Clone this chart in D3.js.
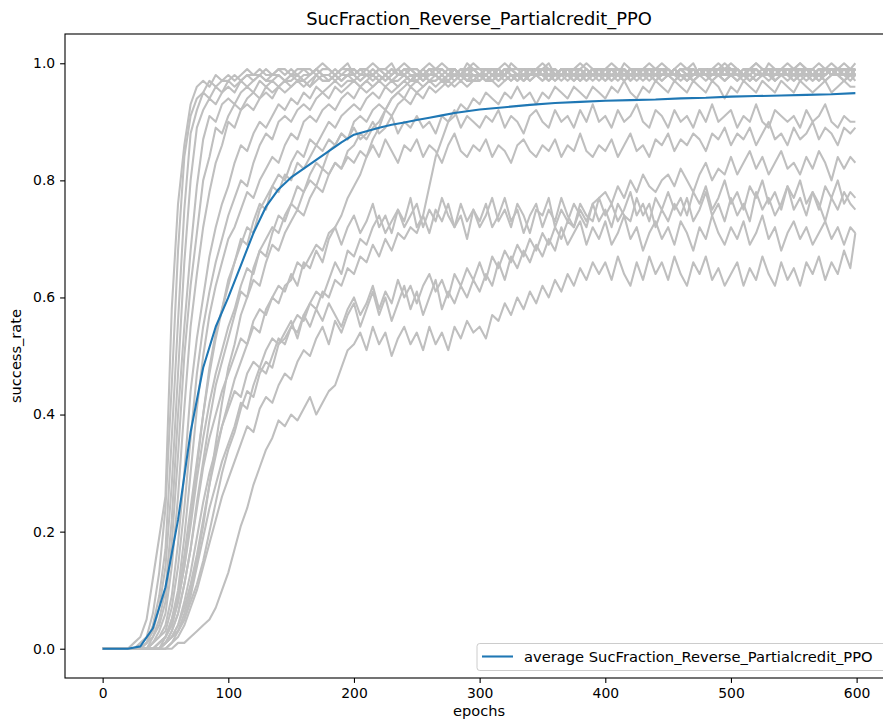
<!DOCTYPE html>
<html>
<head>
<meta charset="utf-8">
<script src="https://cdn.jsdelivr.net/npm/d3@7/dist/d3.min.js"></script>
<style>
  body { margin: 0; background: #fff; }
  text { font-family: "DejaVu Sans", sans-serif; }
</style>
</head>
<body>
<script>
// epochs at which each run was sampled
const epochs = [
  0,5,10,15,20,25,30,35,40,45,
  50,55,60,65,70,75,80,85,90,95,
  100,105,110,115,120,125,130,135,140,145,
  150,155,160,165,170,175,180,185,190,195,
  200,205,210,215,220,225,230,235,240,245,
  250,255,260,265,270,275,280,285,290,295,
  300,305,310,315,320,325,330,335,340,345,
  350,355,360,365,370,375,380,385,390,395,
  400,405,410,415,420,425,430,435,440,445,
  450,455,460,465,470,475,480,485,490,495,
  500,505,510,515,520,525,530,535,540,545,
  550,555,560,565,570,575,580,585,590,595,
  599
];

// average curve
const avgEpochs = [0,10,20,30,40,50,60,70,80,90,100,110,120,130,140,150,160,170,180,190,
  200,210,220,230,240,250,260,270,280,290,300,320,340,360,380,400,420,440,460,480,
  500,520,540,560,580,599];
const avgValues = [0,0,0,0.004,0.035,0.105,0.22,0.37,0.48,0.55,0.60,0.655,0.71,0.755,0.785,
  0.805,0.82,0.835,0.85,0.865,0.878,0.884,0.89,0.895,0.899,0.903,0.907,0.911,0.915,0.918,
  0.921,0.925,0.929,0.932,0.934,0.936,0.937,0.938,0.940,0.941,0.943,0.944,0.945,0.946,0.947,0.949];

// individual runs (gray)
const run01 = [
  0,0,0,0,0,0.01,0.02,0.05,0.12,0.19,
  0.26,0.58,0.76,0.86,0.93,0.96,0.97,0.96,0.98,0.97,
  0.98,0.97,0.98,0.99,0.98,0.98,0.99,0.98,0.99,0.99,
  0.98,0.99,0.99,0.98,0.99,1.0,0.99,0.98,0.99,0.99,
  0.99,0.98,0.99,1.0,0.99,0.99,0.98,0.99,1.0,0.99,
  0.99,0.98,0.99,0.99,1.0,0.99,0.98,0.99,0.99,1.0,
  0.99,0.99,0.98,0.99,1.0,0.99,0.99,0.98,0.99,0.99,
  1.0,0.99,0.99,0.98,0.99,0.99,1.0,0.99,0.98,0.99,
  0.99,1.0,0.99,0.99,0.98,0.99,0.99,1.0,0.99,0.99,
  0.98,0.99,1.0,0.99,0.99,0.98,0.99,0.99,1.0,0.99,
  0.99,0.98,0.99,0.99,1.0,0.99,0.99,0.98,0.99,1.0,
  0.99,0.99,0.98,0.99,1.0,0.99,0.99,0.98,0.99,0.99,
  0.99
];
const run02 = [
  0,0,0,0,0,0,0.01,0.02,0.06,0.13,
  0.24,0.45,0.68,0.84,0.91,0.94,0.95,0.97,0.96,0.97,
  0.97,0.98,0.97,0.98,0.98,0.99,0.98,0.98,0.99,0.98,
  0.99,0.98,0.99,0.99,0.98,0.99,0.99,0.98,0.99,1.0,
  0.98,0.99,0.99,0.98,0.99,0.99,1.0,0.98,0.99,0.99,
  0.98,0.99,1.0,0.99,0.98,0.99,0.99,0.98,1.0,0.99,
  0.99,0.98,0.99,0.99,0.98,1.0,0.99,0.99,0.98,0.99,
  0.99,1.0,0.98,0.99,0.99,0.98,0.99,1.0,0.99,0.98,
  0.99,0.99,0.98,1.0,0.99,0.99,0.98,0.99,0.99,1.0,
  0.99,0.98,0.99,0.99,1.0,0.98,0.99,0.99,0.98,0.99,
  1.0,0.99,0.98,0.99,0.99,0.98,1.0,0.99,0.99,0.98,
  0.99,1.0,0.99,0.98,0.99,0.99,0.98,0.99,1.0,0.99,
  0.98
];
const run03 = [
  0,0,0,0,0,0,0,0.01,0.04,0.09,
  0.17,0.36,0.56,0.75,0.88,0.92,0.95,0.94,0.96,0.95,
  0.97,0.96,0.97,0.98,0.97,0.98,0.97,0.98,0.98,0.97,
  0.98,0.98,0.97,0.98,0.99,0.98,0.98,0.99,0.98,0.98,
  0.99,0.98,0.98,0.99,0.98,0.97,0.98,0.99,0.98,0.99,
  0.98,0.98,0.99,0.98,0.97,0.98,0.99,0.98,0.98,0.99,
  0.98,0.99,0.98,0.98,0.99,0.98,0.97,0.98,0.99,0.98,
  0.98,0.99,0.98,0.99,0.98,0.98,0.99,0.98,0.97,0.98,
  0.99,0.98,0.98,0.99,0.98,0.99,0.98,0.98,0.99,0.98,
  0.98,0.99,0.98,0.97,0.98,0.99,0.98,0.99,0.98,0.98,
  0.99,0.98,0.98,0.99,0.98,0.98,0.99,0.98,0.99,0.98,
  0.98,0.99,0.98,0.98,0.99,0.98,0.99,0.98,0.98,0.99,
  0.98
];
const run04 = [
  0,0,0,0,0,0,0,0.01,0.03,0.07,
  0.14,0.28,0.47,0.66,0.80,0.89,0.92,0.94,0.93,0.95,
  0.96,0.95,0.97,0.96,0.97,0.98,0.97,0.97,0.98,0.97,
  0.98,0.97,0.98,0.98,0.99,0.98,0.98,0.97,0.98,0.99,
  0.98,0.99,0.98,0.98,0.99,0.98,0.99,0.98,0.98,0.99,
  0.99,0.98,0.98,0.99,0.99,0.98,0.99,0.98,0.99,0.99,
  0.98,0.99,0.99,0.98,0.99,0.99,0.98,0.99,0.99,0.98,
  0.99,0.99,0.98,0.99,0.98,0.99,0.99,0.98,0.99,0.99,
  0.98,0.99,0.99,0.98,0.99,0.99,0.98,0.99,0.98,0.99,
  0.99,0.98,0.99,0.99,0.98,0.99,0.99,0.98,0.99,0.99,
  0.98,0.99,0.98,0.99,0.99,0.98,0.99,0.99,0.98,0.99,
  0.99,0.98,0.99,0.99,0.98,0.99,0.98,0.99,0.99,0.98,
  0.99
];
const run05 = [
  0,0,0,0,0,0,0,0.01,0.02,0.05,
  0.10,0.22,0.40,0.55,0.68,0.79,0.87,0.91,0.90,0.93,
  0.94,0.93,0.95,0.96,0.95,0.97,0.96,0.97,0.96,0.97,
  0.97,0.98,0.97,0.96,0.97,0.98,0.97,0.98,0.97,0.98,
  0.97,0.98,0.98,0.97,0.98,0.97,0.98,0.99,0.98,0.97,
  0.98,0.97,0.98,0.98,0.97,0.98,0.99,0.98,0.97,0.98,
  0.98,0.97,0.98,0.99,0.98,0.97,0.98,0.98,0.97,0.98,
  0.99,0.98,0.97,0.98,0.98,0.97,0.98,0.99,0.98,0.98,
  0.97,0.98,0.98,0.99,0.97,0.98,0.98,0.97,0.98,0.99,
  0.98,0.97,0.98,0.98,0.99,0.98,0.97,0.98,0.98,0.97,
  0.98,0.99,0.98,0.97,0.98,0.98,0.99,0.97,0.98,0.98,
  0.97,0.98,0.99,0.98,0.98,0.97,0.98,0.99,0.98,0.97,
  0.98
];
const run06 = [
  0,0,0,0,0,0,0,0,0.02,0.04,
  0.08,0.18,0.33,0.50,0.62,0.71,0.80,0.84,0.89,0.88,
  0.91,0.93,0.92,0.94,0.95,0.94,0.96,0.95,0.96,0.97,
  0.96,0.97,0.97,0.96,0.98,0.97,0.97,0.98,0.97,0.98,
  0.98,0.97,0.98,0.98,0.99,0.98,0.97,0.98,0.99,0.98,
  0.98,0.99,0.98,0.98,0.97,0.98,0.99,0.98,0.98,0.99,
  0.98,0.98,0.99,0.98,0.99,0.98,0.98,0.99,0.98,0.99,
  0.99,0.98,0.98,0.99,0.98,0.99,0.99,0.98,0.99,0.98,
  0.98,0.99,0.99,0.98,0.99,0.98,0.99,0.99,0.98,0.99,
  0.99,0.98,0.99,0.99,0.98,0.99,0.98,0.99,0.99,1.0,
  0.99,0.99,0.98,0.99,1.0,0.99,0.98,0.99,0.99,0.98,
  0.99,1.0,0.99,0.98,0.99,0.99,1.0,0.99,0.98,0.99,
  1.0
];
const run07 = [
  0,0,0,0,0,0,0,0,0.01,0.03,
  0.06,0.14,0.26,0.41,0.55,0.64,0.72,0.78,0.83,0.86,
  0.90,0.89,0.92,0.93,0.92,0.94,0.95,0.94,0.96,0.95,
  0.96,0.97,0.96,0.97,0.98,0.97,0.97,0.98,0.97,0.98,
  0.98,0.97,0.98,0.98,0.97,0.98,0.99,0.98,0.98,0.97,
  0.98,0.98,0.99,0.98,0.97,0.98,0.98,0.99,0.98,0.98,
  0.97,0.98,0.99,0.98,0.98,0.99,0.98,0.97,0.98,0.99,
  0.98,0.98,0.99,0.98,0.97,0.98,0.99,0.98,0.98,0.99,
  0.98,0.97,0.98,0.99,0.98,0.98,0.99,0.98,0.97,0.98,
  0.99,0.98,0.98,0.97,0.98,0.99,0.98,0.98,0.99,0.98,
  0.98,0.99,0.98,0.97,0.98,0.98,0.99,0.98,0.98,0.99,
  0.98,0.98,0.99,0.98,0.97,0.98,0.99,0.98,0.99,0.98,
  0.99
];
const run08 = [
  0,0,0,0,0,0,0,0,0.01,0.02,
  0.04,0.09,0.18,0.30,0.44,0.53,0.60,0.67,0.72,0.76,
  0.79,0.83,0.86,0.85,0.88,0.90,0.89,0.91,0.93,0.92,
  0.94,0.93,0.95,0.94,0.96,0.95,0.96,0.97,0.96,0.97,
  0.97,0.96,0.97,0.98,0.97,0.98,0.97,0.98,0.98,0.97,
  0.98,0.97,0.98,0.98,0.99,0.98,0.97,0.98,0.99,0.98,
  0.98,0.99,0.98,0.97,0.98,0.99,0.98,0.98,0.99,0.98,
  0.99,0.98,0.98,0.99,0.98,0.97,0.98,0.99,0.98,0.99,
  0.98,0.98,0.99,0.98,0.99,0.98,0.98,0.99,0.98,0.98,
  0.99,0.98,0.99,0.98,0.98,0.99,0.98,0.99,0.99,0.98,
  0.98,0.99,0.98,0.99,0.98,0.98,0.99,0.98,0.99,0.99,
  0.98,0.99,0.99,0.98,0.99,0.98,0.99,0.99,0.98,0.99,
  0.99
];
const run09 = [
  0,0,0,0,0,0,0,0,0.01,0.02,
  0.03,0.07,0.14,0.24,0.36,0.47,0.55,0.61,0.66,0.70,
  0.74,0.77,0.80,0.79,0.83,0.86,0.88,0.87,0.90,0.91,
  0.90,0.92,0.93,0.92,0.94,0.95,0.94,0.96,0.95,0.96,
  0.97,0.96,0.97,0.96,0.97,0.98,0.97,0.97,0.98,0.97,
  0.98,0.97,0.98,0.98,0.97,0.98,0.99,0.98,0.97,0.98,
  0.98,0.98,0.97,0.98,0.99,0.98,0.98,0.97,0.98,0.99,
  0.98,0.97,0.98,0.98,0.99,0.98,0.97,0.98,0.99,0.98,
  0.98,0.99,0.98,0.97,0.98,0.98,0.99,0.98,0.98,0.97,
  0.98,0.99,0.98,0.98,0.97,0.98,0.99,0.98,0.98,0.99,
  0.98,0.97,0.98,0.99,0.98,0.98,0.97,0.98,0.99,0.98,
  0.98,0.99,0.98,0.97,0.98,0.99,0.98,0.98,0.99,0.98,
  0.98
];
const run10 = [
  0,0,0,0,0,0,0,0,0,0.01,
  0.02,0.05,0.10,0.19,0.30,0.41,0.50,0.57,0.62,0.66,
  0.70,0.72,0.75,0.78,0.77,0.80,0.82,0.84,0.83,0.86,
  0.88,0.87,0.90,0.91,0.90,0.92,0.93,0.92,0.94,0.95,
  0.94,0.96,0.95,0.96,0.97,0.96,0.97,0.96,0.97,0.98,
  0.97,0.98,0.97,0.97,0.98,0.97,0.98,0.98,0.97,0.98,
  0.98,0.97,0.98,0.99,0.98,0.97,0.98,0.98,0.99,0.98,
  0.97,0.98,0.98,0.99,0.98,0.98,0.97,0.98,0.99,0.98,
  0.98,0.99,0.98,0.98,0.97,0.98,0.99,0.98,0.98,0.99,
  0.98,0.98,0.99,0.98,0.97,0.98,0.98,0.99,0.98,0.98,
  0.99,0.98,0.98,0.97,0.98,0.99,0.98,0.98,0.99,0.98,
  0.98,0.97,0.98,0.99,0.98,0.98,0.99,0.98,0.97,0.98,
  0.99
];
const run11 = [
  0,0,0,0,0,0,0,0,0,0.01,
  0.02,0.04,0.08,0.14,0.22,0.31,0.40,0.48,0.54,0.58,
  0.63,0.66,0.70,0.69,0.73,0.76,0.75,0.79,0.81,0.80,
  0.83,0.85,0.84,0.87,0.86,0.88,0.90,0.89,0.91,0.92,
  0.93,0.92,0.94,0.95,0.94,0.96,0.95,0.96,0.97,0.96,
  0.97,0.96,0.97,0.98,0.97,0.97,0.98,0.97,0.98,0.97,
  0.98,0.97,0.98,0.97,0.98,0.99,0.98,0.97,0.98,0.98,
  0.97,0.98,0.99,0.98,0.98,0.97,0.98,0.98,0.99,0.98,
  0.98,0.97,0.98,0.98,0.99,0.98,0.97,0.98,0.98,0.99,
  0.98,0.98,0.97,0.98,0.99,0.98,0.98,0.97,0.98,0.99,
  0.98,0.97,0.98,0.98,0.99,0.98,0.98,0.97,0.98,0.98,
  0.99,0.98,0.97,0.98,0.98,0.99,0.98,0.98,0.97,0.98,
  0.98
];
const run12 = [
  0,0,0,0,0,0,0,0,0,0,
  0.01,0.03,0.06,0.11,0.17,0.25,0.32,0.39,0.45,0.49,
  0.53,0.57,0.61,0.60,0.65,0.68,0.67,0.71,0.74,0.73,
  0.76,0.79,0.78,0.81,0.83,0.82,0.85,0.86,0.88,0.87,
  0.90,0.91,0.90,0.92,0.93,0.92,0.94,0.95,0.94,0.96,
  0.95,0.96,0.97,0.96,0.97,0.96,0.97,0.98,0.97,0.97,
  0.98,0.97,0.97,0.98,0.97,0.98,0.98,0.97,0.98,0.99,
  0.98,0.97,0.98,0.98,0.99,0.98,0.97,0.98,0.98,0.97,
  0.98,0.99,0.98,0.97,0.98,0.98,0.99,0.98,0.98,0.97,
  0.98,0.98,0.99,0.98,0.97,0.98,0.99,0.98,0.98,0.97,
  0.98,0.99,0.98,0.98,0.97,0.98,0.98,0.99,0.98,0.98,
  0.97,0.98,0.99,0.98,0.98,0.97,0.98,0.99,0.98,0.98,
  0.97
];
const run13 = [
  0,0,0,0,0,0,0,0,0,0,
  0.01,0.02,0.04,0.07,0.11,0.16,0.22,0.28,0.33,0.38,
  0.42,0.46,0.49,0.52,0.55,0.54,0.58,0.60,0.59,0.62,
  0.63,0.66,0.65,0.67,0.69,0.68,0.71,0.72,0.74,0.77,
  0.79,0.81,0.84,0.87,0.89,0.92,0.94,0.95,0.96,0.97,
  0.97,0.98,0.97,0.97,0.98,0.97,0.98,0.98,0.97,0.98,
  0.98,0.97,0.98,0.98,0.99,0.98,0.97,0.98,0.98,0.99,
  0.98,0.98,0.97,0.98,0.99,0.98,0.98,0.97,0.98,0.98,
  0.99,0.98,0.97,0.98,0.98,0.99,0.98,0.98,0.97,0.98,
  0.98,0.99,0.98,0.97,0.98,0.98,0.99,0.98,0.98,0.97,
  0.98,0.98,0.99,0.98,0.97,0.98,0.98,0.99,0.98,0.97,
  0.98,0.99,0.98,0.98,0.97,0.98,0.99,0.98,0.98,0.99,
  0.98
];
const run14 = [
  0,0,0,0,0,0,0,0,0,0,
  0.01,0.02,0.03,0.05,0.08,0.11,0.15,0.20,0.25,0.30,
  0.34,0.37,0.41,0.44,0.43,0.47,0.49,0.48,0.52,0.53,
  0.55,0.54,0.57,0.59,0.58,0.61,0.60,0.63,0.62,0.65,
  0.64,0.67,0.66,0.69,0.67,0.70,0.68,0.71,0.70,0.72,
  0.71,0.74,0.79,0.84,0.87,0.90,0.91,0.93,0.92,0.94,
  0.93,0.95,0.94,0.93,0.95,0.94,0.96,0.94,0.95,0.93,
  0.95,0.94,0.96,0.95,0.94,0.96,0.95,0.94,0.96,0.95,
  0.94,0.96,0.95,0.97,0.95,0.94,0.96,0.95,0.97,0.96,
  0.95,0.97,0.96,0.95,0.97,0.96,0.95,0.97,0.96,0.94,
  0.96,0.95,0.97,0.96,0.95,0.97,0.96,0.95,0.97,0.96,
  0.95,0.97,0.96,0.95,0.96,0.97,0.95,0.96,0.97,0.96,
  0.96
];
const run15 = [
  0,0,0,0,0,0,0,0,0,0,
  0.01,0.02,0.03,0.06,0.10,0.15,0.21,0.28,0.35,0.42,
  0.48,0.52,0.57,0.60,0.63,0.62,0.66,0.69,0.68,0.71,
  0.73,0.75,0.74,0.77,0.79,0.78,0.81,0.83,0.82,0.85,
  0.86,0.88,0.87,0.89,0.90,0.92,0.91,0.93,0.94,0.93,
  0.95,0.94,0.96,0.95,0.96,0.97,0.96,0.97,0.96,0.97,
  0.97,0.98,0.97,0.96,0.97,0.98,0.97,0.98,0.97,0.98,
  0.98,0.97,0.98,0.97,0.98,0.99,0.98,0.97,0.98,0.98,
  0.97,0.98,0.98,0.99,0.98,0.97,0.98,0.98,0.99,0.98,
  0.98,0.97,0.98,0.98,0.99,0.98,0.98,0.97,0.98,0.99,
  0.98,0.98,0.97,0.98,0.99,0.98,0.98,0.97,0.98,0.98,
  0.99,0.98,0.98,0.97,0.98,0.99,0.98,0.98,0.97,0.98,
  0.98
];
const run16 = [
  0,0,0,0,0,0,0,0,0,0,
  0.02,0.04,0.08,0.14,0.21,0.29,0.36,0.42,0.47,0.51,
  0.55,0.58,0.62,0.65,0.64,0.68,0.70,0.72,0.71,0.74,
  0.76,0.75,0.78,0.80,0.79,0.82,0.81,0.83,0.82,0.84,
  0.83,0.85,0.84,0.86,0.84,0.87,0.85,0.83,0.86,0.85,
  0.87,0.84,0.86,0.85,0.83,0.86,0.88,0.85,0.84,0.86,
  0.85,0.87,0.84,0.86,0.85,0.83,0.86,0.87,0.85,0.84,
  0.86,0.85,0.87,0.84,0.86,0.85,0.88,0.85,0.84,0.86,
  0.85,0.87,0.84,0.86,0.88,0.85,0.86,0.84,0.87,0.86,
  0.88,0.85,0.87,0.86,0.88,0.87,0.85,0.88,0.87,0.89,
  0.86,0.88,0.87,0.89,0.86,0.88,0.90,0.87,0.88,0.86,
  0.89,0.87,0.88,0.90,0.87,0.89,0.88,0.86,0.89,0.88,
  0.89
];
const run17 = [
  0,0,0,0,0,0,0,0,0,0.01,
  0.02,0.05,0.09,0.16,0.24,0.32,0.40,0.47,0.53,0.58,
  0.62,0.66,0.69,0.72,0.71,0.75,0.77,0.79,0.78,0.81,
  0.80,0.83,0.82,0.84,0.86,0.85,0.87,0.86,0.88,0.87,
  0.89,0.87,0.88,0.90,0.88,0.89,0.91,0.88,0.90,0.89,
  0.91,0.89,0.90,0.88,0.91,0.90,0.92,0.89,0.91,0.90,
  0.89,0.91,0.90,0.92,0.89,0.91,0.90,0.88,0.91,0.92,
  0.90,0.89,0.92,0.90,0.91,0.89,0.92,0.90,0.93,0.90,
  0.91,0.89,0.92,0.90,0.91,0.93,0.90,0.89,0.92,0.91,
  0.89,0.92,0.90,0.91,0.89,0.92,0.90,0.93,0.90,0.91,
  0.92,0.89,0.91,0.90,0.93,0.90,0.89,0.92,0.91,0.90,
  0.91,0.89,0.92,0.90,0.91,0.93,0.90,0.89,0.91,0.90,
  0.90
];
const run18 = [
  0,0,0,0,0,0,0,0,0,0,
  0.01,0.02,0.04,0.08,0.13,0.19,0.25,0.30,0.34,0.38,
  0.41,0.44,0.43,0.47,0.49,0.48,0.51,0.53,0.52,0.54,
  0.56,0.53,0.57,0.55,0.58,0.56,0.59,0.57,0.55,0.58,
  0.60,0.57,0.59,0.62,0.58,0.61,0.59,0.63,0.60,0.62,
  0.59,0.62,0.64,0.61,0.63,0.60,0.64,0.62,0.65,0.63,
  0.66,0.63,0.67,0.65,0.68,0.66,0.69,0.67,0.70,0.68,
  0.71,0.69,0.72,0.70,0.73,0.72,0.75,0.73,0.76,0.77,
  0.78,0.76,0.79,0.77,0.80,0.78,0.81,0.79,0.78,0.80,
  0.81,0.79,0.82,0.80,0.78,0.81,0.83,0.80,0.82,0.81,
  0.84,0.81,0.83,0.85,0.82,0.84,0.81,0.83,0.85,0.82,
  0.83,0.81,0.84,0.82,0.85,0.83,0.80,0.84,0.82,0.84,
  0.83
];
const run19 = [
  0,0,0,0,0,0,0,0,0,0,
  0.01,0.03,0.06,0.11,0.17,0.24,0.31,0.36,0.40,0.44,
  0.47,0.50,0.53,0.52,0.56,0.58,0.57,0.60,0.62,0.61,
  0.64,0.62,0.66,0.65,0.68,0.66,0.70,0.72,0.69,0.72,
  0.74,0.71,0.73,0.76,0.72,0.74,0.71,0.75,0.73,0.77,
  0.72,0.74,0.71,0.75,0.73,0.76,0.72,0.74,0.70,0.75,
  0.73,0.76,0.72,0.74,0.77,0.73,0.75,0.71,0.74,0.76,
  0.72,0.75,0.73,0.77,0.74,0.72,0.76,0.74,0.73,0.77,
  0.74,0.76,0.73,0.75,0.78,0.74,0.76,0.73,0.77,0.75,
  0.78,0.75,0.77,0.74,0.78,0.76,0.79,0.75,0.77,0.80,
  0.76,0.78,0.75,0.79,0.77,0.80,0.76,0.78,0.75,0.79,
  0.77,0.80,0.76,0.78,0.75,0.79,0.77,0.80,0.76,0.78,
  0.77
];
const run20 = [
  0,0,0,0,0,0,0,0,0,0,
  0,0.01,0.03,0.05,0.09,0.14,0.19,0.24,0.28,0.32,
  0.35,0.38,0.42,0.41,0.45,0.48,0.47,0.50,0.53,0.52,
  0.55,0.57,0.56,0.59,0.61,0.60,0.63,0.66,0.64,0.68,
  0.67,0.70,0.69,0.72,0.74,0.71,0.73,0.75,0.72,0.74,
  0.76,0.72,0.75,0.73,0.77,0.74,0.72,0.76,0.73,0.75,
  0.72,0.74,0.77,0.73,0.75,0.72,0.76,0.74,0.71,0.75,
  0.74,0.77,0.72,0.75,0.73,0.76,0.74,0.72,0.76,0.73,
  0.75,0.72,0.76,0.74,0.73,0.77,0.74,0.76,0.72,0.75,
  0.73,0.76,0.74,0.77,0.73,0.75,0.78,0.74,0.76,0.73,
  0.77,0.74,0.76,0.73,0.78,0.75,0.77,0.74,0.76,0.79,
  0.75,0.77,0.74,0.78,0.76,0.73,0.77,0.75,0.78,0.76,
  0.75
];
const run21 = [
  0,0,0,0,0,0,0,0,0,0,
  0,0.01,0.02,0.04,0.07,0.10,0.14,0.18,0.22,0.26,
  0.29,0.32,0.35,0.38,0.37,0.41,0.43,0.42,0.45,0.47,
  0.46,0.49,0.51,0.50,0.53,0.55,0.52,0.56,0.54,0.57,
  0.59,0.55,0.58,0.61,0.57,0.60,0.56,0.59,0.62,0.58,
  0.61,0.57,0.60,0.63,0.58,0.61,0.59,0.62,0.60,0.63,
  0.61,0.64,0.62,0.66,0.63,0.67,0.65,0.68,0.66,0.69,
  0.67,0.70,0.68,0.72,0.69,0.71,0.73,0.69,0.72,0.70,
  0.73,0.69,0.71,0.74,0.70,0.72,0.68,0.71,0.73,0.70,
  0.72,0.69,0.73,0.71,0.68,0.72,0.70,0.74,0.71,0.69,
  0.72,0.70,0.73,0.69,0.71,0.74,0.70,0.72,0.68,0.71,
  0.73,0.70,0.72,0.69,0.71,0.73,0.70,0.72,0.69,0.72,
  0.71
];
const run22 = [
  0,0,0,0,0,0,0,0,0,0,
  0,0,0.01,0.01,0.02,0.03,0.04,0.05,0.07,0.10,
  0.13,0.17,0.21,0.24,0.28,0.31,0.34,0.36,0.39,0.38,
  0.40,0.39,0.41,0.43,0.40,0.42,0.44,0.45,0.48,0.51,
  0.52,0.54,0.51,0.55,0.52,0.54,0.50,0.53,0.55,0.52,
  0.54,0.51,0.55,0.52,0.54,0.51,0.55,0.53,0.56,0.54,
  0.55,0.53,0.57,0.56,0.59,0.57,0.60,0.58,0.61,0.59,
  0.62,0.60,0.63,0.61,0.64,0.62,0.65,0.63,0.66,0.64,
  0.66,0.63,0.67,0.64,0.62,0.66,0.63,0.67,0.64,0.66,
  0.63,0.67,0.64,0.62,0.66,0.64,0.67,0.63,0.65,0.62,
  0.64,0.66,0.62,0.65,0.63,0.67,0.64,0.62,0.66,0.63,
  0.65,0.62,0.66,0.64,0.67,0.63,0.66,0.64,0.68,0.65,
  0.71
];

const runs = [run01, run02, run03, run04, run05, run06, run07, run08, run09, run10, run11,
  run12, run13, run14, run15, run16, run17, run18, run19, run20, run21, run22];

const xTicks = [0, 100, 200, 300, 400, 500, 600];
const yTicks = [0, 0.2, 0.4, 0.6, 0.8, 1.0];
const title = "SucFraction_Reverse_Partialcredit_PPO";

var width = 883, height = 723;
var box = { left: 65, top: 34, right: 893, bottom: 678 };
var fs = 13.9;

var svg = d3.select("body").append("svg")
  .attr("width", width)
  .attr("height", height);

var x = d3.scaleLinear().domain([-29.95, 628.95]).range([box.left, box.right]);
var y = d3.scaleLinear().domain([-0.05, 1.05]).range([box.bottom, box.top]);

svg.append("defs").append("clipPath").attr("id", "plot")
  .append("rect")
  .attr("x", box.left).attr("y", box.top)
  .attr("width", box.right - box.left).attr("height", box.bottom - box.top);

var line = d3.line()
  .defined(function (d, i) { return d != null && epochs[i] != null; })
  .x(function (d, i) { return x(epochs[i]); })
  .y(function (d) { return y(d); });

var g = svg.append("g").attr("clip-path", "url(#plot)");

g.selectAll(".run")
  .data(runs)
  .enter().append("path")
  .attr("class", "run")
  .attr("d", line)
  .attr("fill", "none")
  .attr("stroke", "#bfbfbf")
  .attr("stroke-width", 2.08)
  .attr("stroke-linejoin", "round");

var avgLine = d3.line()
  .x(function (d, i) { return x(avgEpochs[i]); })
  .y(function (d) { return y(d); });

g.append("path")
  .attr("d", avgLine(avgValues))
  .attr("fill", "none")
  .attr("stroke", "#1f77b4")
  .attr("stroke-width", 2.08)
  .attr("stroke-linejoin", "round");

// axes
var xAxis = svg.append("g")
  .attr("transform", "translate(0," + box.bottom + ")")
  .call(d3.axisBottom(x).tickValues(xTicks).tickSize(4.9).tickPadding(5.5).tickFormat(d3.format("d")));
var yAxis = svg.append("g")
  .attr("transform", "translate(" + box.left + ",0)")
  .call(d3.axisLeft(y).tickValues(yTicks).tickSize(4.9).tickPadding(4.9).tickFormat(d3.format(".1f")));

[xAxis, yAxis].forEach(function (a) {
  a.select(".domain").remove();
  a.selectAll("line").attr("stroke", "#000").attr("stroke-width", 1.1);
  a.selectAll("text").attr("fill", "#000").style("font-size", fs + "px")
    .style("font-family", "'DejaVu Sans', sans-serif");
});

svg.append("rect")
  .attr("x", box.left).attr("y", box.top)
  .attr("width", box.right - box.left).attr("height", box.bottom - box.top)
  .attr("fill", "none")
  .attr("stroke", "#000")
  .attr("stroke-width", 1.1);

// labels
svg.append("text")
  .attr("x", (box.left + box.right) / 2).attr("y", 25)
  .attr("text-anchor", "middle")
  .style("font-size", "17.9px")
  .text(title);

svg.append("text")
  .attr("x", (box.left + box.right) / 2).attr("y", 716)
  .attr("text-anchor", "middle")
  .style("font-size", "14.6px")
  .text("epochs");

svg.append("text")
  .attr("transform", "translate(21," + (box.top + box.bottom) / 2 + ") rotate(-90)")
  .attr("text-anchor", "middle")
  .style("font-size", "14.6px")
  .text("success_rate");

// legend
var leg = svg.append("g");
leg.append("rect")
  .attr("x", 477).attr("y", 643.5)
  .attr("width", 409).attr("height", 27)
  .attr("rx", 2.8)
  .attr("fill", "#fff").attr("fill-opacity", 0.8)
  .attr("stroke", "#cccccc").attr("stroke-width", 1);
leg.append("line")
  .attr("x1", 482).attr("x2", 513)
  .attr("y1", 656.5).attr("y2", 656.5)
  .attr("stroke", "#1f77b4").attr("stroke-width", 2.08);
leg.append("text")
  .attr("x", 524).attr("y", 656.5).attr("dy", "0.35em")
  .style("font-size", "14.7px")
  .text("average " + title);
</script>
</body>
</html>
